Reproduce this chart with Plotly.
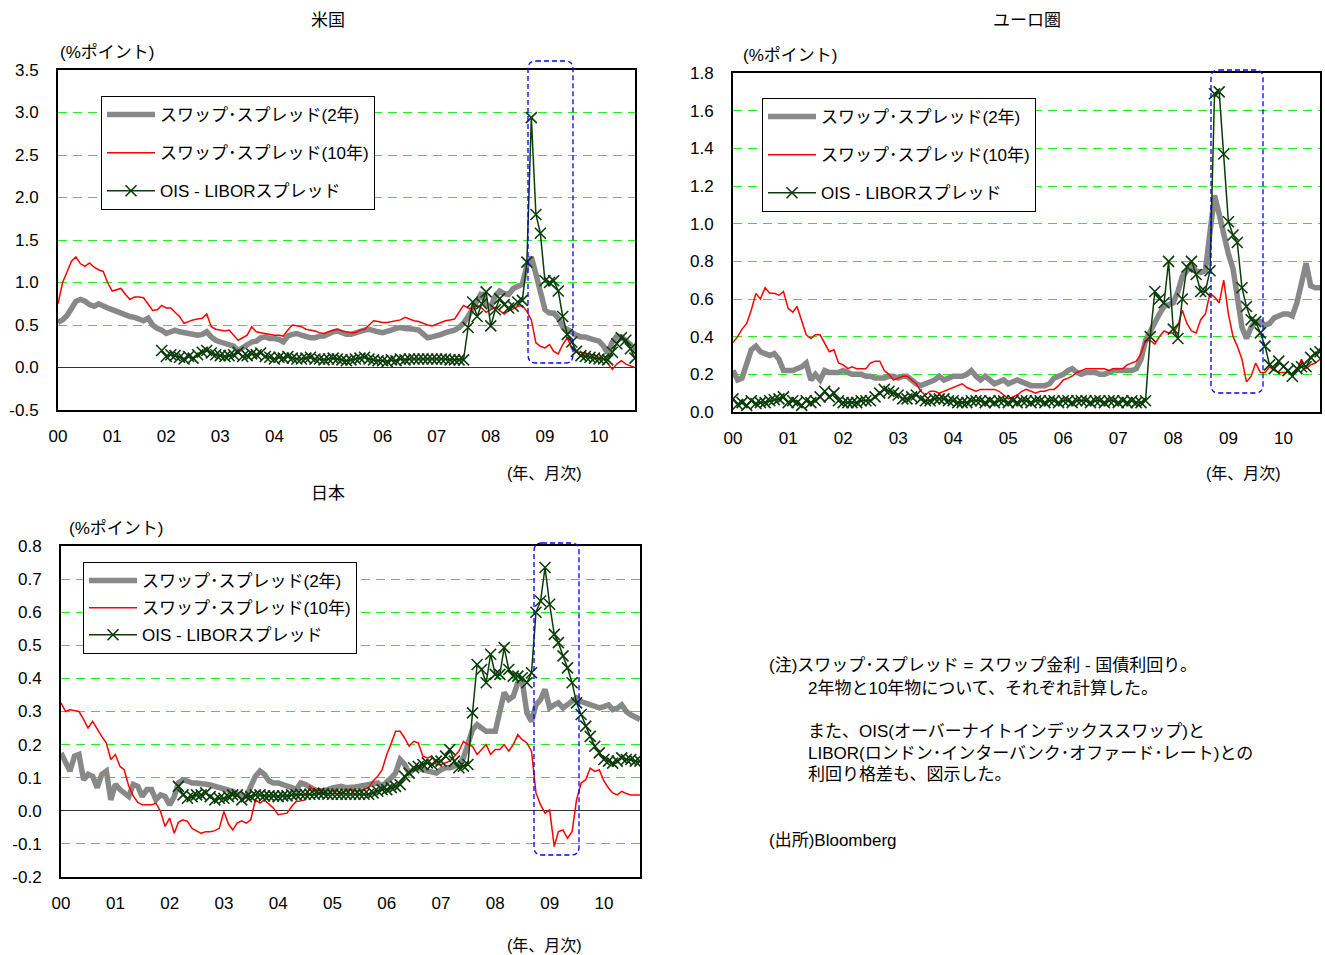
import pandas as pd
import plotly.graph_objects as go

# ---------------- data (monthly, Jan 2000 - Sep 2010) ----------------
months = pd.date_range("2000-01-01", periods=129, freq="MS")
year_ticks = [f"{y}-01-01" for y in range(2000, 2011)]
year_labels = ["00", "01", "02", "03", "04", "05", "06", "07", "08", "09", "10"]

series_names = ["スワップ･スプレッド(2年)", "スワップ･スプレッド(10年)", "OIS - LIBORスプレッド"]

# United States
us_swap_2y = [
    0.53, 0.56, 0.61, 0.70, 0.78, 0.80, 0.78, 0.74, 0.72, 0.75,
    0.72, 0.70, 0.68, 0.66, 0.64, 0.61, 0.60, 0.59, 0.57, 0.55,
    0.58, 0.50, 0.46, 0.44, 0.40, 0.43, 0.44, 0.42, 0.41, 0.40,
    0.38, 0.38, 0.39, 0.42, 0.36, 0.32, 0.30, 0.28, 0.27, 0.25,
    0.20, 0.24, 0.28, 0.30, 0.31, 0.35, 0.36, 0.34, 0.34, 0.33,
    0.30, 0.37, 0.39, 0.40, 0.38, 0.36, 0.35, 0.35, 0.37, 0.37,
    0.40, 0.42, 0.43, 0.41, 0.39, 0.39, 0.41, 0.43, 0.44, 0.45,
    0.43, 0.42, 0.41, 0.42, 0.44, 0.46, 0.47, 0.46, 0.46, 0.45,
    0.44, 0.40, 0.35, 0.36, 0.37, 0.39, 0.41, 0.42, 0.44, 0.47,
    0.52, 0.60, 0.70, 0.80, 0.88, 0.74, 0.72, 0.84, 0.90, 0.87,
    0.86, 0.93, 0.96, 0.98, 1.20, 1.30, 1.10, 0.88, 0.68, 0.64,
    0.64, 0.58, 0.48, 0.45, 0.41, 0.38, 0.36, 0.36, 0.34, 0.33,
    0.31, 0.25, 0.17, 0.30, 0.37, 0.36, 0.32, 0.27, 0.19,
]
us_swap_10y = [
    0.75, 1.00, 1.12, 1.25, 1.30, 1.22, 1.19, 1.23, 1.18, 1.15,
    1.13, 1.00, 0.90, 0.92, 0.93, 0.86, 0.80, 0.83, 0.83, 0.82,
    0.75, 0.67, 0.68, 0.73, 0.70, 0.70, 0.65, 0.60, 0.52, 0.54,
    0.56, 0.57, 0.58, 0.63, 0.48, 0.45, 0.44, 0.43, 0.44, 0.38,
    0.32, 0.35, 0.38, 0.48, 0.42, 0.41, 0.40, 0.39, 0.38, 0.38,
    0.37, 0.44, 0.50, 0.49, 0.48, 0.45, 0.44, 0.43, 0.41, 0.40,
    0.42, 0.44, 0.45, 0.43, 0.42, 0.41, 0.41, 0.44, 0.45, 0.50,
    0.55, 0.54, 0.53, 0.53, 0.54, 0.55, 0.56, 0.59, 0.57, 0.55,
    0.54, 0.52, 0.50, 0.49, 0.51, 0.53, 0.55, 0.56, 0.57, 0.65,
    0.73, 0.70, 0.69, 0.73, 0.70, 0.65, 0.68, 0.71, 0.67, 0.63,
    0.67, 0.69, 0.72, 0.73, 0.66, 0.56, 0.29, 0.25, 0.23, 0.27,
    0.19, 0.16, 0.27, 0.35, 0.22, 0.18, 0.18, 0.16, 0.15, 0.14,
    0.12, 0.10, 0.05, -0.02, 0.04, 0.08, 0.04, 0.02, 0.00,
]
us_ois_start = "2001-12-01"
us_ois_libor = [
    0.20, 0.13, 0.15, 0.14, 0.12, 0.10, 0.13,
    0.11, 0.15, 0.18, 0.20, 0.17, 0.15, 0.14, 0.13, 0.14, 0.15,
    0.18, 0.13, 0.14, 0.16, 0.15, 0.17, 0.13, 0.12, 0.10, 0.12,
    0.11, 0.13, 0.11, 0.10, 0.10, 0.11, 0.12, 0.10, 0.10, 0.09,
    0.10, 0.11, 0.10, 0.09, 0.08, 0.09, 0.10, 0.11, 0.12, 0.10,
    0.09, 0.08, 0.08, 0.07, 0.09, 0.08, 0.10, 0.09, 0.10, 0.10,
    0.10, 0.10, 0.10, 0.10, 0.10, 0.10, 0.10, 0.09, 0.09, 0.09,
    0.09, 0.47, 0.77, 0.60, 0.75, 0.89, 0.49, 0.68, 0.81, 0.74,
    0.70, 0.72, 0.77, 0.79, 1.24, 2.94, 1.80, 1.58, 1.02, 1.00,
    1.02, 0.90, 0.60, 0.39, 0.30, 0.19, 0.14, 0.13, 0.12, 0.11,
    0.10, 0.10, 0.09, 0.18, 0.28, 0.35, 0.32, 0.22, 0.11,
]

# Euro area
eu_swap_2y = [
    0.22, 0.17, 0.18, 0.27, 0.33, 0.35, 0.32, 0.31, 0.30, 0.31,
    0.28, 0.22, 0.22, 0.22, 0.23, 0.24, 0.26, 0.17, 0.20, 0.17,
    0.22, 0.21, 0.21, 0.21, 0.22, 0.21, 0.20, 0.20, 0.20, 0.19,
    0.19, 0.18, 0.18, 0.18, 0.19, 0.19, 0.18, 0.19, 0.19, 0.17,
    0.15, 0.14, 0.15, 0.16, 0.17, 0.19, 0.17, 0.18, 0.19, 0.19,
    0.19, 0.20, 0.22, 0.19, 0.17, 0.19, 0.17, 0.15, 0.16, 0.17,
    0.15, 0.16, 0.17, 0.16, 0.15, 0.14, 0.14, 0.14, 0.14, 0.15,
    0.18, 0.19, 0.20, 0.22, 0.23, 0.21, 0.20, 0.21, 0.21, 0.21,
    0.20, 0.20, 0.21, 0.22, 0.22, 0.22, 0.22, 0.22, 0.23, 0.28,
    0.38, 0.43, 0.47, 0.52, 0.56, 0.57, 0.58, 0.64, 0.72, 0.75,
    0.77, 0.75, 0.74, 0.75, 0.95, 1.15, 1.05, 0.93, 0.84, 0.76,
    0.63, 0.45, 0.39, 0.45, 0.48, 0.48, 0.46, 0.47, 0.50, 0.51,
    0.52, 0.52, 0.51, 0.58, 0.70, 0.79, 0.67, 0.66, 0.66,
]
eu_swap_10y = [
    0.37, 0.40, 0.44, 0.47, 0.54, 0.63, 0.60, 0.66, 0.63, 0.63,
    0.62, 0.64, 0.55, 0.53, 0.56, 0.48, 0.41, 0.39, 0.41, 0.41,
    0.36, 0.32, 0.33, 0.26, 0.25, 0.23, 0.24, 0.23, 0.23, 0.23,
    0.26, 0.27, 0.27, 0.22, 0.20, 0.17, 0.18, 0.19, 0.19, 0.17,
    0.15, 0.11, 0.09, 0.11, 0.11, 0.10, 0.11, 0.12, 0.13, 0.14,
    0.15, 0.13, 0.12, 0.11, 0.12, 0.12, 0.12, 0.12, 0.11, 0.09,
    0.07, 0.08, 0.09, 0.11, 0.12, 0.11, 0.10, 0.11, 0.11, 0.12,
    0.12, 0.14, 0.17, 0.18, 0.19, 0.21, 0.22, 0.23, 0.23, 0.23,
    0.23, 0.23, 0.22, 0.23, 0.23, 0.23, 0.25, 0.26, 0.27, 0.31,
    0.38, 0.38, 0.36, 0.40, 0.43, 0.42, 0.42, 0.46, 0.54, 0.47,
    0.43, 0.42, 0.49, 0.52, 0.63, 0.61, 0.58, 0.70, 0.52, 0.40,
    0.35, 0.28, 0.16, 0.19, 0.26, 0.21, 0.21, 0.24, 0.22, 0.21,
    0.21, 0.21, 0.20, 0.22, 0.28, 0.23, 0.25, 0.26, 0.28,
]
eu_ois_start = "2000-01-01"
eu_ois_libor = [
    0.07, 0.04, 0.05, 0.035, 0.06, 0.045, 0.05, 0.05, 0.06, 0.065,
    0.07, 0.08, 0.05, 0.06, 0.05, 0.035, 0.06, 0.05, 0.06, 0.08,
    0.11, 0.08, 0.10, 0.06, 0.05, 0.05, 0.05, 0.05, 0.06, 0.06,
    0.06, 0.08, 0.10, 0.12, 0.11, 0.10, 0.09, 0.07, 0.07, 0.08,
    0.09, 0.07, 0.06, 0.06, 0.07, 0.07, 0.07, 0.06, 0.06, 0.05,
    0.05, 0.05, 0.06, 0.06, 0.06, 0.05, 0.06, 0.05, 0.06, 0.06,
    0.05, 0.06, 0.05, 0.06, 0.06, 0.05, 0.06, 0.06, 0.05, 0.06,
    0.06, 0.05, 0.06, 0.06, 0.05, 0.06, 0.06, 0.06, 0.05, 0.06,
    0.06, 0.05, 0.06, 0.06, 0.05, 0.06, 0.05, 0.06, 0.05, 0.05,
    0.06, 0.40, 0.64, 0.60, 0.58, 0.80, 0.44, 0.39, 0.60, 0.77,
    0.80, 0.73, 0.64, 0.64, 0.75, 1.69, 1.70, 1.37, 1.01, 0.94,
    0.90, 0.66, 0.56, 0.49, 0.48, 0.42, 0.35, 0.25, 0.23, 0.27,
    0.24, 0.22, 0.19, 0.23, 0.24, 0.24, 0.29, 0.31, 0.32,
]

# Japan
jp_swap_2y = [
    0.175, 0.145, 0.12, 0.165, 0.17, 0.094, 0.11, 0.104, 0.07, 0.11,
    0.12, 0.033, 0.08, 0.064, 0.054, 0.043, 0.08, 0.074, 0.043, 0.064,
    0.064, 0.033, 0.048, 0.043, 0.018, 0.043, 0.084, 0.094, 0.09, 0.084,
    0.084, 0.084, 0.08, 0.078, 0.074, 0.072, 0.07, 0.065, 0.059, 0.05,
    0.045, 0.043, 0.074, 0.104, 0.12, 0.11, 0.09, 0.084, 0.084, 0.08,
    0.074, 0.07, 0.064, 0.084, 0.08, 0.07, 0.064, 0.059, 0.06, 0.064,
    0.069, 0.07, 0.074, 0.07, 0.069, 0.072, 0.074, 0.076, 0.079, 0.082,
    0.084, 0.074, 0.085, 0.10, 0.114, 0.155, 0.14, 0.114, 0.125, 0.13,
    0.124, 0.122, 0.12, 0.114, 0.124, 0.13, 0.13, 0.134, 0.14, 0.16,
    0.20, 0.245, 0.26, 0.25, 0.24, 0.24, 0.24, 0.30, 0.357, 0.336,
    0.346, 0.387, 0.39, 0.296, 0.27, 0.32, 0.336, 0.367, 0.311, 0.32,
    0.326, 0.311, 0.32, 0.33, 0.341, 0.33, 0.326, 0.32, 0.316, 0.311,
    0.315, 0.32, 0.306, 0.31, 0.32, 0.30, 0.29, 0.285, 0.276,
]
jp_swap_10y = [
    0.326, 0.30, 0.305, 0.303, 0.30, 0.276, 0.25, 0.27, 0.245, 0.225,
    0.205, 0.155, 0.17, 0.134, 0.124, 0.074, 0.045, 0.025, 0.018, 0.018,
    0.018, 0.023, -0.002, -0.047, -0.022, -0.068, -0.035, -0.027, -0.032, -0.053,
    -0.06, -0.068, -0.063, -0.063, -0.06, -0.053, -0.002, -0.04, -0.058, -0.037,
    -0.03, -0.037, -0.027, 0.033, 0.023, 0.033, 0.02, 0.008, -0.012, -0.01,
    -0.007, 0.013, 0.028, 0.03, 0.033, 0.074, 0.059, 0.069, 0.055, 0.048,
    0.06, 0.06, 0.055, 0.06, 0.065, 0.06, 0.06, 0.065, 0.07, 0.09,
    0.104, 0.124, 0.17, 0.205, 0.24, 0.24, 0.22, 0.195, 0.21, 0.205,
    0.165, 0.16, 0.165, 0.14, 0.14, 0.145, 0.15, 0.165, 0.18, 0.21,
    0.20, 0.195, 0.17, 0.185, 0.20, 0.17, 0.185, 0.185, 0.20, 0.18,
    0.20, 0.23, 0.215, 0.205, 0.18, 0.054, 0.018, -0.007, 0.003, -0.108,
    -0.063, -0.058, -0.083, -0.063, 0.033, 0.084, 0.094, 0.129, 0.119, 0.124,
    0.09, 0.069, 0.054, 0.048, 0.059, 0.052, 0.048, 0.048, 0.048,
]
jp_ois_start = "2002-03-01"
jp_ois_libor = [
    0.074, 0.048, 0.038, 0.043,
    0.048, 0.048, 0.054, 0.043, 0.033, 0.038, 0.038, 0.043, 0.048, 0.048,
    0.033, 0.043, 0.043, 0.048, 0.048, 0.045, 0.045, 0.045, 0.043, 0.045,
    0.045, 0.048, 0.048, 0.05, 0.05, 0.05, 0.05, 0.052, 0.052, 0.05,
    0.05, 0.05, 0.05, 0.05, 0.05, 0.05, 0.05, 0.05, 0.05, 0.054,
    0.059, 0.064, 0.064, 0.07, 0.074, 0.079, 0.104, 0.114, 0.13, 0.134,
    0.14, 0.145, 0.14, 0.15, 0.15, 0.165, 0.185, 0.15, 0.13, 0.135,
    0.14, 0.296, 0.442, 0.427, 0.387, 0.473, 0.412, 0.412, 0.493, 0.427,
    0.407, 0.407, 0.402, 0.387, 0.417, 0.60, 0.634, 0.735, 0.624, 0.533,
    0.508, 0.468, 0.432, 0.387, 0.326, 0.291, 0.256, 0.225, 0.195, 0.175,
    0.155, 0.15, 0.144, 0.15, 0.16, 0.155, 0.155, 0.15, 0.15,
]

us_yticks = [3.5, 3.0, 2.5, 2.0, 1.5, 1.0, 0.5, 0.0, -0.5]
eu_yticks = [1.8, 1.6, 1.4, 1.2, 1.0, 0.8, 0.6, 0.4, 0.2, 0.0]
jp_yticks = [0.8, 0.7, 0.6, 0.5, 0.4, 0.3, 0.2, 0.1, 0.0, -0.1, -0.2]

# ---------------- styling ----------------
W, H = 1325, 955
FONT = "Liberation Sans, Arial, Noto Sans CJK JP, sans-serif"
GRAY = "#888888"
RED = "#ff0000"
GREEN = "#0b3d0b"
GRID = "#22ee22"


def px_x(p):
    return p / W


def px_y(p):
    return 1 - p / H


fig = go.Figure()


def add_panel(n, legend, s2, s10, ois_start, ois):
    xa = "x" if n == 1 else f"x{n}"
    ya = "y" if n == 1 else f"y{n}"
    ois_x = pd.date_range(ois_start, periods=len(ois), freq="MS")
    fig.add_trace(go.Scatter(x=months, y=s2, xaxis=xa, yaxis=ya, mode="lines",
                             line=dict(color=GRAY, width=5.5), name=series_names[0],
                             legend=legend, legendgroup=f"{legend}a"))
    fig.add_trace(go.Scatter(x=months, y=s10, xaxis=xa, yaxis=ya, mode="lines",
                             line=dict(color=RED, width=1.5), name=series_names[1],
                             legend=legend, legendgroup=f"{legend}b"))
    fig.add_trace(go.Scatter(x=ois_x, y=ois, xaxis=xa, yaxis=ya, mode="lines+markers",
                             line=dict(color=GREEN, width=1.5),
                             marker=dict(symbol="x-thin", size=11, color=GREEN,
                                         line=dict(color=GREEN, width=1.6)),
                             name=series_names[2],
                             legend=legend, legendgroup=f"{legend}c"))


add_panel(1, "legend", us_swap_2y, us_swap_10y, us_ois_start, us_ois_libor)
add_panel(2, "legend2", eu_swap_2y, eu_swap_10y, eu_ois_start, eu_ois_libor)
add_panel(3, "legend3", jp_swap_2y, jp_swap_10y, jp_ois_start, jp_ois_libor)


def xaxis(domain, anchor):
    return dict(domain=domain, type="date", range=["2000-01-01", "2010-09-01"],
                tickvals=year_ticks, ticktext=year_labels, ticks="outside",
                ticklen=10, tickcolor="rgba(0,0,0,0)", showgrid=False,
                showline=True, mirror=True, linecolor="black", linewidth=2,
                tickfont=dict(family=FONT, size=17, color="black"), zeroline=False,
                anchor=anchor, automargin=False)


def yaxis(domain, rng, ticks, anchor):
    return dict(domain=domain, range=rng, tickvals=ticks,
                ticktext=[f"{v:.1f}" for v in ticks], ticks="outside", ticklen=14,
                tickcolor="rgba(0,0,0,0)", showgrid=True, gridcolor=GRID, gridwidth=1,
                griddash="9px,6px", showline=True, mirror=True, linecolor="black",
                linewidth=2, zeroline=True, zerolinecolor="#333333", zerolinewidth=1,
                tickfont=dict(family=FONT, size=17, color="black"), anchor=anchor,
                automargin=False)


leg_common = dict(bgcolor="white", bordercolor="black", borderwidth=1,
                  font=dict(family=FONT, size=17, color="black"),
                  xanchor="left", yanchor="top", itemclick=False, itemwidth=48)


def rounded_box(x0, y0, x1, y1, r=8):
    pts = [
        f"M {px_x(x0 + r)},{px_y(y0)}", f"L {px_x(x1 - r)},{px_y(y0)}",
        f"Q {px_x(x1)},{px_y(y0)} {px_x(x1)},{px_y(y0 + r)}",
        f"L {px_x(x1)},{px_y(y1 - r)}",
        f"Q {px_x(x1)},{px_y(y1)} {px_x(x1 - r)},{px_y(y1)}",
        f"L {px_x(x0 + r)},{px_y(y1)}",
        f"Q {px_x(x0)},{px_y(y1)} {px_x(x0)},{px_y(y1 - r)}",
        f"L {px_x(x0)},{px_y(y0 + r)}",
        f"Q {px_x(x0)},{px_y(y0)} {px_x(x0 + r)},{px_y(y0)} Z",
    ]
    return dict(type="path", xref="paper", yref="paper", path=" ".join(pts),
                line=dict(color="#0000ff", width=1.3, dash="5px,3px"),
                fillcolor="rgba(0,0,0,0)", layer="above")


def text(s, x, y, size=17, xanchor="left"):
    return dict(text=s, x=px_x(x), y=px_y(y), xref="paper", yref="paper",
                xanchor=xanchor, yanchor="middle", showarrow=False,
                font=dict(family=FONT, size=size, color="black"))


annotations = [
    text("米国", 328, 20, 17, "center"),
    text("ユーロ圏", 1027, 20, 17, "center"),
    text("日本", 328, 493, 17, "center"),
    text("(%ポイント)", 58, 53, 17),
    text("(%ポイント)", 741, 55, 17),
    text("(%ポイント)", 67, 528, 17),
    text("(年、月次)", 505, 473, 16),
    text("(年、月次)", 1204, 473, 16),
    text("(年、月次)", 505, 945, 16),
    text("(注)スワップ･スプレッド = スワップ金利 - 国債利回り。", 767, 665, 17),
    text("2年物と10年物について、それぞれ計算した。", 806, 688, 17),
    text("また、OIS(オーバーナイトインデックススワップ)と", 806, 731, 17),
    text("LIBOR(ロンドン･インターバンク･オファード･レート)との", 806, 753, 17),
    text("利回り格差も、図示した。", 806, 774, 17),
    text("(出所)Bloomberg", 767, 840, 17),
]

fig.update_layout(
    width=W, height=H, autosize=False,
    margin=dict(l=0, r=0, t=0, b=0, pad=0),
    paper_bgcolor="white", plot_bgcolor="white",
    font=dict(family=FONT, color="black"),
    xaxis=xaxis([px_x(58), px_x(635)], "y"),
    yaxis=yaxis([px_y(410), px_y(70)], [-0.5, 3.5], us_yticks, "x"),
    xaxis2=xaxis([px_x(733), px_x(1320)], "y2"),
    yaxis2=yaxis([px_y(412), px_y(73)], [0, 1.8], eu_yticks, "x2"),
    xaxis3=xaxis([px_x(61), px_x(640)], "y3"),
    yaxis3=yaxis([px_y(877), px_y(546)], [-0.2, 0.8], jp_yticks, "x3"),
    legend=dict(x=px_x(101), y=px_y(96), tracegroupgap=13, **leg_common),
    legend2=dict(x=px_x(762), y=px_y(98), tracegroupgap=13, **leg_common),
    legend3=dict(x=px_x(83), y=px_y(562), tracegroupgap=2, **leg_common),
    shapes=[rounded_box(528, 61, 573, 363), rounded_box(1211, 70, 1263, 393),
            rounded_box(534, 543, 579, 855)],
    annotations=annotations,
    showlegend=True,
)

# remove the default page margin synchronously (closes the generated .then callback first)
fig.write_html(
    "out.html",
    config={"displayModeBar": False},
    post_script="}); document.body.style.margin='0px'; (function(){",
)
